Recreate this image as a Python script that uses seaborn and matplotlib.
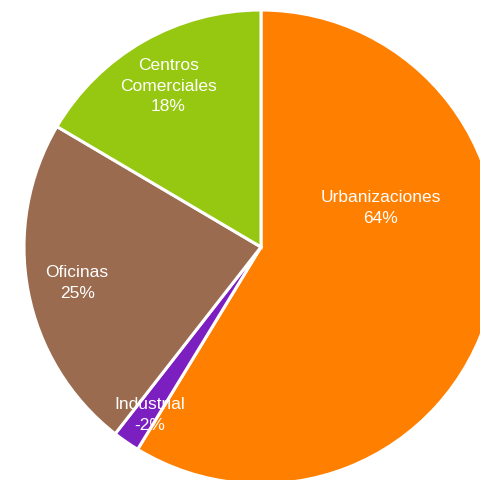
import matplotlib
matplotlib.use('Agg')
import matplotlib.pyplot as plt
import seaborn as sns

categories = ["Urbanizaciones", "Industrial", "Oficinas", "Centros\nComerciales"]
values = [64, -2, 25, 18]
colors = ["#FF8000", "#7B1FC0", "#9A6B4F", "#96C811"]
# label anchor points, in pie-radius units
label_pos = [(0.506, 0.165), (-0.468, -0.709), (-0.776, -0.152), (-0.392, 0.679)]

sns.set_theme(style="white")
plt.rcParams['font.family'] = ['Liberation Sans', 'DejaVu Sans']

fig = plt.figure(figsize=(4.81, 4.80), dpi=100)
ax = fig.add_axes([24 / 481, -4 / 480, 474 / 481, 474 / 480])

sizes = [abs(v) for v in values]
ax.pie(sizes, colors=colors, startangle=90, counterclock=False,
       wedgeprops=dict(edgecolor='white', linewidth=2.2))
ax.set_aspect('auto')
ax.set_xlim(-1, 1)
ax.set_ylim(-1, 1)
ax.axis('off')

for name, v, (x, y) in zip(categories, values, label_pos):
    ax.text(x, y, f"{name}\n{v}%", ha='center', va='center', color='white',
            fontsize=12.5, linespacing=1.45)

fig.savefig("out.png", dpi=100)
